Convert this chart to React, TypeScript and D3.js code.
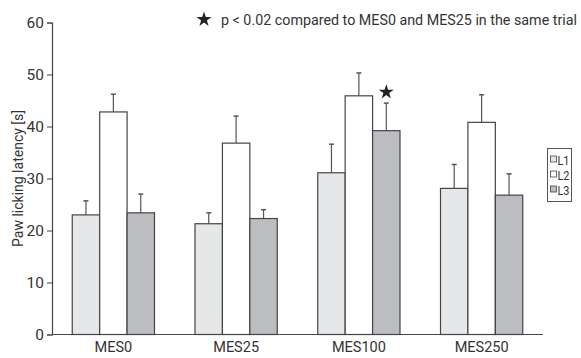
import React, { useEffect, useRef } from "react";
import * as d3 from "d3";

const groups = ["MES0", "MES25", "MES100", "MES250"];
const series = ["L1", "L2", "L3"];
const seriesColors = ["#e6e7e8", "#ffffff", "#bcbdc0"];
// mean per group, one array per series
const meanL1 = [23.0, 21.3, 31.1, 28.1];
const meanL2 = [42.8, 36.8, 45.9, 40.8];
const meanL3 = [23.4, 22.3, 39.2, 26.8];
// upper end of the error bar
const errL1 = [25.7, 23.4, 36.6, 32.7];
const errL2 = [46.2, 42.0, 50.3, 46.1];
const errL3 = [27.0, 24.0, 44.5, 30.9];
const yTicks = [0, 10, 20, 30, 40, 50, 60];
const starred = [{ group: "MES100", series: "L3" }];
const note = "p < 0.02 compared to MES0 and MES25 in the same trial";

const FONT = "Roboto, 'Liberation Sans', sans-serif";

const App = () => {
  const svgRef = useRef<SVGSVGElement>(null);

  useEffect(() => {
    const width = 581;
    const height = 358;
    const margin = { top: 22.5, right: 38, bottom: 23.5, left: 52 };

    const svg = d3.select(svgRef.current).attr("width", width).attr("height", height);
    svg.selectAll("*").remove();

    const means = [meanL1, meanL2, meanL3];
    const errs = [errL1, errL2, errL3];

    const x0 = d3
      .scaleBand()
      .domain(groups)
      .range([margin.left, width - margin.right])
      .paddingInner(0.33)
      .paddingOuter(0.165);
    const x1 = d3.scaleBand().domain(series).range([0, x0.bandwidth()]);
    const y = d3
      .scaleLinear()
      .domain([0, 60])
      .range([height - margin.bottom, margin.top]);

    const rows = [];
    groups.forEach((g, gi) => {
      series.forEach((s, si) => {
        rows.push({ g, s, si, v: means[si][gi], e: errs[si][gi] });
      });
    });

    // error bars first, the bars cover their lower part
    const eb = svg.append("g");
    rows.forEach((d) => {
      const cx = x0(d.g) + x1(d.s) + x1.bandwidth() / 2;
      eb.append("line")
        .attr("x1", cx).attr("x2", cx)
        .attr("y1", y(d.v)).attr("y2", y(d.e))
        .attr("stroke", "#555").attr("stroke-width", 1.2);
      eb.append("line")
        .attr("x1", cx - 2.5).attr("x2", cx + 2.5)
        .attr("y1", y(d.e)).attr("y2", y(d.e))
        .attr("stroke", "#555").attr("stroke-width", 1.5);
    });

    svg
      .append("g")
      .selectAll("rect")
      .data(rows)
      .enter()
      .append("rect")
      .attr("x", (d) => x0(d.g) + x1(d.s))
      .attr("y", (d) => y(d.v))
      .attr("width", x1.bandwidth())
      .attr("height", (d) => y(0) - y(d.v))
      .attr("fill", (d) => seriesColors[d.si])
      .attr("stroke", "#444")
      .attr("stroke-width", 1.2);

    // axes
    const yAxis = svg
      .append("g")
      .attr("transform", `translate(${margin.left},0)`)
      .call(d3.axisLeft(y).tickValues(yTicks).tickSize(5).tickPadding(3));
    yAxis.select(".domain").attr("stroke", "#444").attr("stroke-width", 1.2);
    yAxis.selectAll(".tick line").attr("stroke", "#444");
    yAxis
      .selectAll(".tick text")
      .attr("font-family", FONT)
      .attr("font-size", 15.5)
      .attr("fill", "#333");

    const xAxis = svg
      .append("g")
      .attr("transform", `translate(0,${y(0)})`)
      .call(d3.axisBottom(x0).tickSize(0).tickPadding(7));
    xAxis
      .select(".domain")
      .attr("d", `M${margin.left},0H${width - margin.right}`)
      .attr("stroke", "#444")
      .attr("stroke-width", 1.2);
    xAxis
      .selectAll(".tick text")
      .attr("font-family", FONT)
      .attr("font-size", 14.5)
      .attr("fill", "#333");

    svg
      .append("text")
      .attr("transform", `translate(23,${(margin.top + y(0)) / 2}) rotate(-90)`)
      .attr("text-anchor", "middle")
      .attr("font-family", FONT)
      .attr("font-size", 14)
      .attr("textLength", 137)
      .attr("lengthAdjust", "spacingAndGlyphs")
      .attr("fill", "#333")
      .text("Paw licking latency [s]");

    const star = d3.symbol().type(d3.symbolStar).size(70);

    starred.forEach((st) => {
      const gi = groups.indexOf(st.group);
      const si = series.indexOf(st.series);
      const cx = x0(st.group) + x1(st.series) + x1.bandwidth() / 2;
      svg
        .append("path")
        .attr("d", star())
        .attr("transform", `translate(${cx},${y(errs[si][gi]) - 11})`)
        .attr("fill", "#222");
    });

    // note
    svg
      .append("path")
      .attr("d", star())
      .attr("transform", `translate(204,19.5)`)
      .attr("fill", "#222");
    svg
      .append("text")
      .attr("x", 221)
      .attr("y", 24.5)
      .attr("font-family", FONT)
      .attr("font-size", 14.5)
      .attr("textLength", 356)
      .attr("lengthAdjust", "spacingAndGlyphs")
      .attr("fill", "#333")
      .text(note);

    // legend
    const lg = svg.append("g").attr("transform", "translate(547.5,148.5)");
    lg.append("rect")
      .attr("width", 24)
      .attr("height", 53)
      .attr("fill", "#fff")
      .attr("stroke", "#555")
      .attr("stroke-width", 1);
    series.forEach((s, i) => {
      const yy = 11 + i * 15;
      lg.append("rect")
        .attr("x", 3)
        .attr("y", yy - 3.5)
        .attr("width", 6)
        .attr("height", 6)
        .attr("fill", seriesColors[i])
        .attr("stroke", "#444")
        .attr("stroke-width", 0.8);
      lg.append("text")
        .attr("x", 10)
        .attr("y", yy + 5)
        .attr("font-family", FONT)
        .attr("font-size", 13.5)
        .attr("textLength", 12)
        .attr("lengthAdjust", "spacingAndGlyphs")
        .attr("fill", "#333")
        .text(s);
    });
  }, []);

  return <svg ref={svgRef} style={{ position: "absolute", left: 0, top: 0 }}></svg>;
};

export default App;
